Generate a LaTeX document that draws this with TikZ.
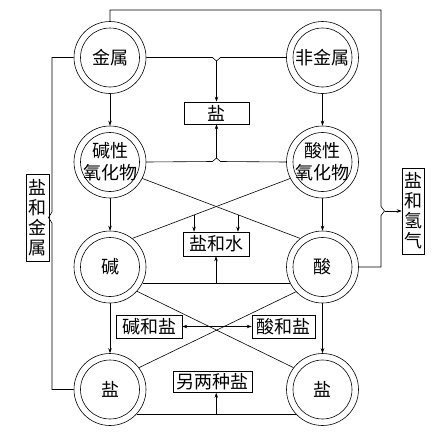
\documentclass[tikz,border=0pt]{standalone}
\usepackage{fontspec}
\setmainfont{Noto Sans CJK SC}
\usetikzlibrary{arrows.meta,calc}

\begin{document}
\begin{tikzpicture}[x=1pt,y=-1pt, line width=0.6pt,
  ring/.style={circle,draw,minimum size=72pt,inner sep=0pt,font=\fontsize{18}{22}\selectfont,align=center,
    path picture={\draw (path picture bounding box.center) circle (29.5pt);}},
  lbl/.style={draw,inner sep=0pt,font=\fontsize{18}{20}\selectfont,align=center},
  arr/.style={-{Stealth[length=5pt,width=3.5pt]}},
  darr/.style={{Stealth[length=5pt,width=3.5pt]}-{Stealth[length=5pt,width=3.5pt]}}]
\useasboundingbox (0,0) rectangle (444,442);

% circles
\node[ring] (js) at (110,57.5) {金属};
\node[ring] (fj) at (322.5,57.5) {非金属};
\node[ring] (bx) at (110,162) {碱性\\氧化物};
\node[ring] (sx) at (322.5,162) {酸性\\氧化物};
\node[ring] (j) at (110,267) {碱};
\node[ring] (sa) at (322.5,267) {酸};
\node[ring] (yl) at (110,389.5) {盐};
\node[ring] (yr) at (322.5,389.5) {盐};

% boxes
\node[lbl,minimum width=65pt,minimum height=22pt] (yan) at (216.5,113) {盐};
\node[lbl,minimum width=66pt,minimum height=24pt] (yhs) at (216,244) {盐和水};
\node[lbl,minimum width=66pt,minimum height=23pt] (jhy) at (149,326.5) {碱和盐};
\node[lbl,minimum width=63pt,minimum height=23pt] (shy) at (283.5,326.5) {酸和盐};
\node[lbl,minimum width=79pt,minimum height=21pt] (lzy) at (212.5,382) {另两种盐};
\node[lbl,minimum width=23pt,minimum height=87pt] (yhj) at (37.5,217.5) {盐\\和\\金\\属};
\node[lbl,minimum width=22pt,minimum height=86pt] (yhq) at (413,211) {盐\\和\\氢\\气};

% coordinates
\coordinate (tR) at (381,10);
\coordinate (nH) at (384.5,211);
\coordinate (nJ) at (48.5,217.5);
\coordinate (nT) at (216.5,61);
\coordinate (nB) at (216.5,158);

% outer loop right: metal -> salt and hydrogen <- acid
\draw (js.north) |- (tR) -- ($(nH)+(-3.5,-4.5)$) -- (nH) -- ($(nH)+(-3.5,4.5)$) |- (sa.east);
\draw[arr] (nH) -- (yhq.west);

% outer loop left: metal -> salt and metal <- salt
\draw (js.west) -| ($(nJ)+(3.5,-5.5)$) -- (nJ) -- ($(nJ)+(3.5,5.5)$) |- (yl.west);

% metal - nonmetal -> salt
\draw (js.east) -- ($(nT)+(-4,-3.5)$) -- (nT) -- ($(nT)+(4,-3.5)$) -- (fj.west);
\draw[arr] (nT) -- (yan.north);

% basic oxide - acidic oxide -> salt
\draw (bx.east) -- ($(nB)+(-4,3.5)$) -- (nB) -- ($(nB)+(4,3.5)$) -- (sx.west);
\draw[arr] (nB) -- (yan.south);

% crosses to salt and water
\draw (bx.-27) -- (sa.128) coordinate[pos=0.606] (xr);
\draw (j.52) -- (sx.-153) coordinate[pos=0.391] (xl);
\draw[arr] (xl) -- (xl |- yhs.north);
\draw[arr] (xr) -- (xr |- yhs.north);

% base - acid -> salt and water
\draw (j.-26) -- (sa.-154) coordinate[midway] (m1);
\draw[arr] (yhs.south |- m1) -- (yhs.south);

% lower cross
\draw (j.-42) -- (yr.143);
\draw (sa.-137) -- (yl.37);
\draw[darr] (jhy.east) -- (shy.west);

% salt - salt -> two other salts
\draw (yl.-43) -- (yr.-137) coordinate[midway] (m2);
\draw[arr] (m2) -- (m2 |- lzy.south);

% vertical arrows
\draw[arr] (js) -- (bx);
\draw[arr] (bx) -- (j);
\draw[arr] (j) -- (yl);
\draw[arr] (fj) -- (sx);
\draw[arr] (sx) -- (sa);
\draw[arr] (sa) -- (yr);
\end{tikzpicture}
\end{document}
